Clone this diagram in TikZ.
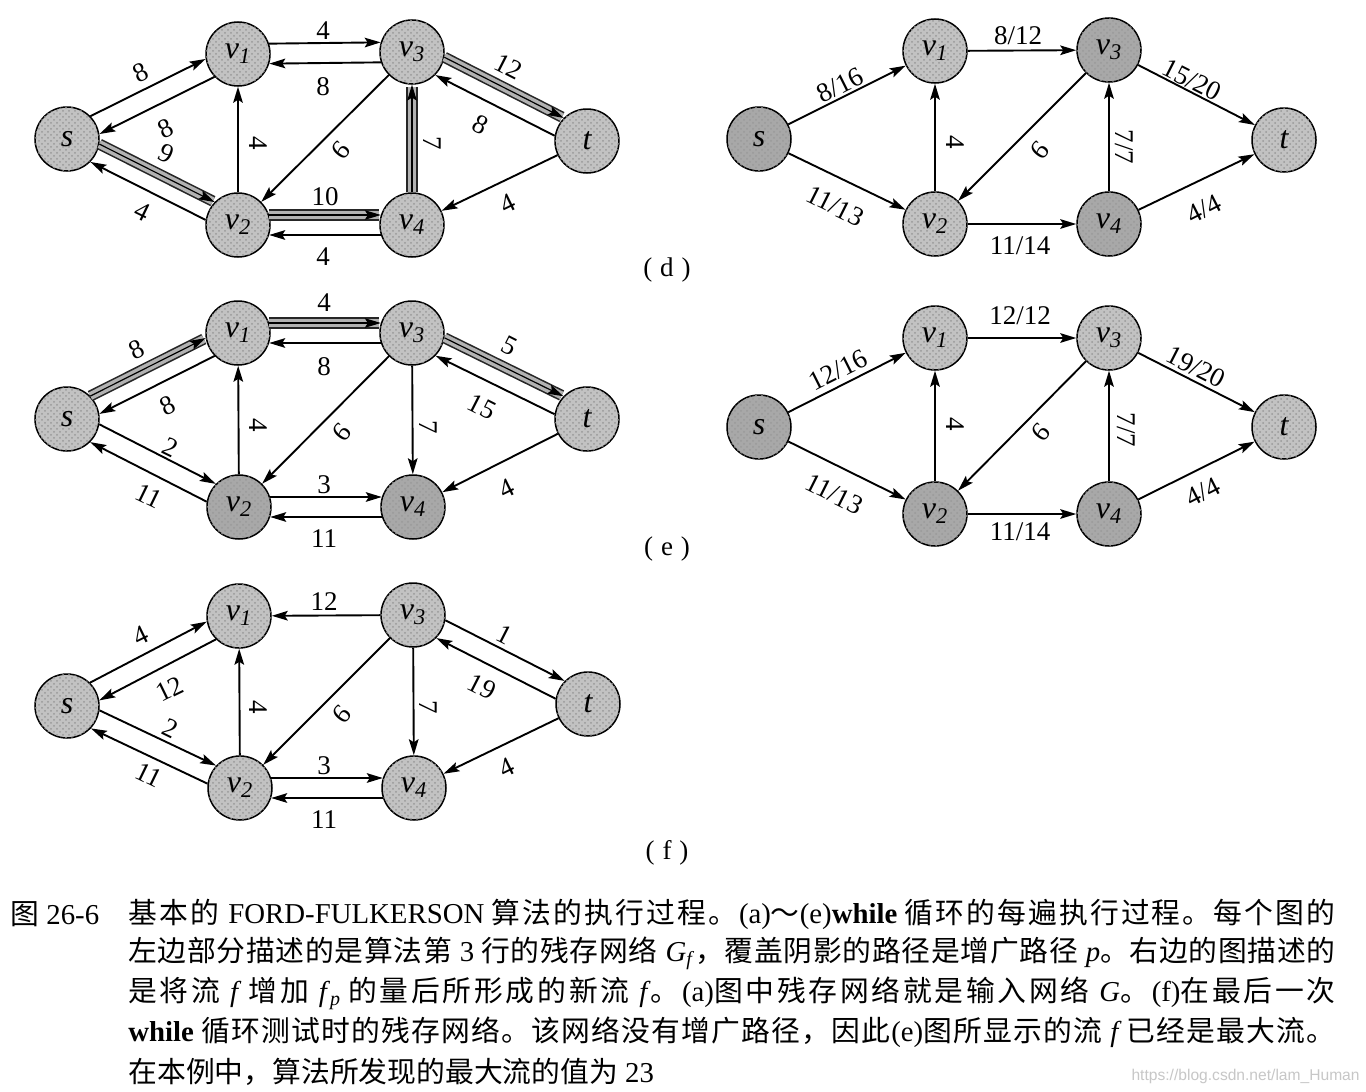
\documentclass[tikz,border=0pt]{standalone}
\usepackage{fontspec}
\setmainfont{Liberation Serif}
\newfontfamily\cjk{Noto Sans CJK SC}
\newfontfamily\wmfont{Liberation Sans}
\usetikzlibrary{arrows.meta,calc,patterns}
\def\spx#1{\ifx#1\relax\else#1\hskip0pt plus1fil\relax\expandafter\spx\fi}
\newcommand\cj[1]{{\cjk\spx#1\relax}}
\newcommand\vv[1]{v\textsubscript{#1}}
\tikzset{
  nd/.style={circle, draw=black, line width=0.75pt, fill=black!24, postaction={pattern=crosshatch dots, pattern color=black!40}, minimum size=32pt, inner sep=0pt, font=\fontsize{16}{16}\selectfont\itshape},
  ndk/.style={nd, fill=black!34},
  ar/.style={line width=0.95pt, -{Stealth[length=8pt,width=4.8pt,inset=1.5pt]}},
  lb/.style={font=\fontsize{13.5}{13.5}\selectfont, inner sep=0pt},
  captxt/.style={font=\fontsize{14.4}{14.4}\selectfont, inner sep=0pt, anchor=west},
}
% paired edge, offset to the left of its direction
\newcommand\pe[3][]{\draw[ar,shorten <=15.6pt,shorten >=15.6pt,#1] ($(#2)!5pt!90:(#3)$) -- ($(#3)!5pt!-90:(#2)$);}
% shaded (augmenting path) edge: #1 from, #2 to, #3 offset, #4 shorten
\newcommand\se[4]{%
  \draw[line width=5.6pt, black!85, shorten <=#4, shorten >=#4+1pt] ($(#1)!#3!90:(#2)$) -- ($(#2)!#3!-90:(#1)$);
  \draw[line width=4pt, black!30, shorten <=#4, shorten >=#4+1pt] ($(#1)!#3!90:(#2)$) -- ($(#2)!#3!-90:(#1)$);
  \draw[ar, line width=0.6pt, shorten <=#4, shorten >=#4] ($(#1)!#3!90:(#2)$) -- ($(#2)!#3!-90:(#1)$);}
\begin{document}
\begin{tikzpicture}[x=0.5pt,y=-0.5pt]
\fill[white] (0,0) rectangle (1366,1092);
\useasboundingbox (0,0) rectangle (1366,1092);

% ================= (d) left: residual network
\node[nd] (L1s) at (67,139) {s};
\node[nd] (L1v1) at (238,54) {\vv{1}};
\node[nd] (L1v3) at (412,52) {\vv{3}};
\node[nd] (L1t) at (587,141) {t};
\node[nd] (L1v2) at (238,225) {\vv{2}};
\node[nd] (L1v4) at (412,225) {\vv{4}};
\pe{L1s}{L1v1} \pe{L1v1}{L1s}
\pe{L1v1}{L1v3} \pe{L1v3}{L1v1}
\se{L1v3}{L1t}{5pt}{15.6pt} \pe{L1t}{L1v3}
\se{L1s}{L1v2}{5pt}{15.6pt} \pe{L1v2}{L1s}
\draw[ar] (L1v2) -- (L1v1);
\draw[ar] (L1v3) -- (L1v2);
\se{L1v4}{L1v3}{0pt}{16.3pt}
\se{L1v2}{L1v4}{5pt}{15.6pt} \pe{L1v4}{L1v2}
\draw[ar] (L1t) -- (L1v4);
\node[lb, rotate=26] (L1a) at (141,73) {8};
\node[lb, rotate=26] (L1b) at (166,129) {8};
\node[lb, rotate=-26] (L1c) at (166,154) {9};
\node[lb, rotate=-26] (L1d) at (142,211) {4};
\node[lb] (L1e) at (323,31) {4};
\node[lb] (L1f) at (323,87) {8};
\node[lb, rotate=-27] (L1g) at (509,67) {12};
\node[lb, rotate=-27] (L1h) at (481,125) {8};
\node[lb, rotate=26] (L1i) at (508,204) {4};
\node[lb, rotate=-90] (L1j) at (258,143) {4};
\node[lb, rotate=-130] (L1k) at (341,150) {9};
\node[lb, rotate=-90] (L1l) at (432,143) {7};
\node[lb] (L1m) at (325,197) {10};
\node[lb] (L1n) at (323,257) {4};

% ================= (d) right: flow
\node[ndk] (R1s) at (759,139) {s};
\node[nd] (R1v1) at (935,51) {\vv{1}};
\node[ndk] (R1v3) at (1109,50) {\vv{3}};
\node[nd] (R1t) at (1284,140) {t};
\node[nd] (R1v2) at (935,224) {\vv{2}};
\node[ndk] (R1v4) at (1109,224) {\vv{4}};
\draw[ar] (R1s) -- (R1v1);
\draw[ar] (R1s) -- (R1v2);
\draw[ar] (R1v1) -- (R1v3);
\draw[ar] (R1v3) -- (R1t);
\draw[ar] (R1v4) -- (R1t);
\draw[ar] (R1v2) -- (R1v4);
\draw[ar] (R1v2) -- (R1v1);
\draw[ar] (R1v3) -- (R1v2);
\draw[ar] (R1v4) -- (R1v3);
\node[lb, rotate=26.6] (R1a) at (840,85) {8/16};
\node[lb, rotate=-26.6] (R1b) at (835,206) {11/13};
\node[lb] (R1c) at (1018,36) {8/12};
\node[lb, rotate=-27] (R1d) at (1192,80) {15/20};
\node[lb, rotate=27] (R1e) at (1204,209) {4/4};
\node[lb] (R1f) at (1020,246) {11/14};
\node[lb, rotate=-90] (R1g) at (955,142) {4};
\node[lb, rotate=-130] (R1h) at (1040,150) {9};
\node[lb, rotate=-90] (R1i) at (1124,147) {7/7};
\node[lb] (capd) at (667,270) {(\hspace{4pt}d\hspace{4pt})};

% ================= (e) left: residual network
\node[nd] (L2s) at (67,419) {s};
\node[nd] (L2v1) at (238,333) {\vv{1}};
\node[nd] (L2v3) at (412,333) {\vv{3}};
\node[nd] (L2t) at (587,419) {t};
\node[ndk] (L2v2) at (239,507) {\vv{2}};
\node[ndk] (L2v4) at (413,507) {\vv{4}};
\se{L2s}{L2v1}{5pt}{15.6pt} \pe{L2v1}{L2s}
\se{L2v1}{L2v3}{5pt}{15.6pt} \pe{L2v3}{L2v1}
\se{L2v3}{L2t}{5pt}{15.6pt} \pe{L2t}{L2v3}
\pe{L2s}{L2v2} \pe{L2v2}{L2s}
\draw[ar] (L2v2) -- (L2v1);
\draw[ar] (L2v3) -- (L2v2);
\draw[ar] (L2v3) -- (L2v4);
\draw[ar] (L2t) -- (L2v4);
\pe{L2v2}{L2v4} \pe{L2v4}{L2v2}
\node[lb, rotate=26] (L2a) at (137,350) {8};
\node[lb, rotate=26] (L2b) at (168,406) {8};
\node[lb] (L2c) at (324,303) {4};
\node[lb] (L2d) at (324,367) {8};
\node[lb, rotate=-27] (L2e) at (509,346) {5};
\node[lb, rotate=-27] (L2f) at (482,407) {15};
\node[lb, rotate=-26] (L2g) at (170,447) {2};
\node[lb, rotate=-26] (L2h) at (149,496) {11};
\node[lb, rotate=-90] (L2i) at (258,425) {4};
\node[lb, rotate=-130] (L2j) at (342,432) {9};
\node[lb, rotate=-90] (L2k) at (428,427) {7};
\node[lb, rotate=26] (L2l) at (507,489) {4};
\node[lb] (L2m) at (324,485) {3};
\node[lb] (L2n) at (324,539) {11};

% ================= (e) right: flow
\node[ndk] (R2s) at (759,427) {s};
\node[nd] (R2v1) at (935,338) {\vv{1}};
\node[nd] (R2v3) at (1109,338) {\vv{3}};
\node[nd] (R2t) at (1284,427) {t};
\node[ndk] (R2v2) at (935,514) {\vv{2}};
\node[ndk] (R2v4) at (1109,514) {\vv{4}};
\draw[ar] (R2s) -- (R2v1);
\draw[ar] (R2s) -- (R2v2);
\draw[ar] (R2v1) -- (R2v3);
\draw[ar] (R2v3) -- (R2t);
\draw[ar] (R2v4) -- (R2t);
\draw[ar] (R2v2) -- (R2v4);
\draw[ar] (R2v2) -- (R2v1);
\draw[ar] (R2v3) -- (R2v2);
\draw[ar] (R2v4) -- (R2v3);
\node[lb, rotate=26.6] (R2a) at (838,370) {12/16};
\node[lb, rotate=-26.6] (R2b) at (834,494) {11/13};
\node[lb] (R2c) at (1020,316) {12/12};
\node[lb, rotate=-27] (R2d) at (1196,367) {19/20};
\node[lb, rotate=27] (R2e) at (1203,492) {4/4};
\node[lb] (R2f) at (1020,532) {11/14};
\node[lb, rotate=-90] (R2g) at (955,424) {4};
\node[lb, rotate=-130] (R2h) at (1041,432) {9};
\node[lb, rotate=-90] (R2i) at (1126,430) {7/7};
\node[lb] (cape) at (667,549) {(\hspace{4pt}e\hspace{4pt})};

% ================= (f) residual network
\node[nd] (L3s) at (67,706) {s};
\node[nd] (L3v1) at (239,616) {\vv{1}};
\node[nd] (L3v3) at (413,615) {\vv{3}};
\node[nd] (L3t) at (588,704) {t};
\node[nd] (L3v2) at (240,788) {\vv{2}};
\node[nd] (L3v4) at (414,788) {\vv{4}};
\pe{L3s}{L3v1} \pe{L3v1}{L3s}
\draw[ar] (L3v3) -- (L3v1);
\pe{L3v3}{L3t} \pe{L3t}{L3v3}
\pe{L3s}{L3v2} \pe{L3v2}{L3s}
\draw[ar] (L3v2) -- (L3v1);
\draw[ar] (L3v3) -- (L3v2);
\draw[ar] (L3v3) -- (L3v4);
\draw[ar] (L3t) -- (L3v4);
\pe{L3v2}{L3v4} \pe{L3v4}{L3v2}
\node[lb, rotate=26] (L3a) at (141,636) {4};
\node[lb, rotate=26] (L3b) at (170,689) {12};
\node[lb] (L3c) at (324,602) {12};
\node[lb, rotate=-27] (L3d) at (505,635) {1};
\node[lb, rotate=-27] (L3e) at (482,687) {19};
\node[lb, rotate=-26] (L3f) at (170,728) {2};
\node[lb, rotate=-26] (L3g) at (149,775) {11};
\node[lb, rotate=-90] (L3h) at (258,707) {4};
\node[lb, rotate=-130] (L3i) at (342,714) {9};
\node[lb, rotate=-90] (L3j) at (428,707) {7};
\node[lb, rotate=26] (L3k) at (507,768) {4};
\node[lb] (L3l) at (324,766) {3};
\node[lb] (L3m) at (324,820) {11};
\node[lb] (capf) at (667,853) {(\hspace{4pt}f\hspace{4pt})};

% ================= caption
\node[captxt] (fig) at (10,914) {{\cjk 图} 26-6};
\node[captxt] (c1) at (128,914) {\makebox[603.5pt][s]{\cj{基本的} FORD-FULKERSON \cj{算法的执行过程。}(a){\cjk ～}(e)\textbf{while} \cj{循环的每遍执行过程。每个图的}\unskip}};
\node[captxt] (c2) at (128,953) {\makebox[603.5pt][s]{\cj{左边部分描述的是算法第} 3 \cj{行的残存网络} \textit{G}\textsubscript{\textit{f}}\cj{，覆盖阴影的路径是增广路径} \textit{p}\cj{。右边的图描述的}\unskip}};
\node[captxt] (c3) at (128,993) {\makebox[603.5pt][s]{\cj{是将流} \textit{f} \cj{增加} \textit{f}\textsubscript{\textit{p}} \cj{的量后所形成的新流} \textit{f}\cj{。}(a)\cj{图中残存网络就是输入网络} \textit{G}\cj{。}(f)\cj{在最后一次}\unskip}};
\node[captxt] (c4) at (128,1032) {\makebox[603.5pt][s]{\textbf{while} \cj{循环测试时的残存网络。该网络没有增广路径，因此}(e)\cj{图所显示的流} \textit{f}\,\cj{已经是最大流。}\unskip}};
\node[captxt] (c5) at (128,1072) {{\cjk 在本例中，算法所发现的最大流的值为} 23};
\node[anchor=east, inner sep=0pt, font=\wmfont\fontsize{7.8}{7.8}\selectfont, text=black!22] (wm) at (1360,1076) {https://blog.csdn.net/lam\_Human};
\end{tikzpicture}
\end{document}
